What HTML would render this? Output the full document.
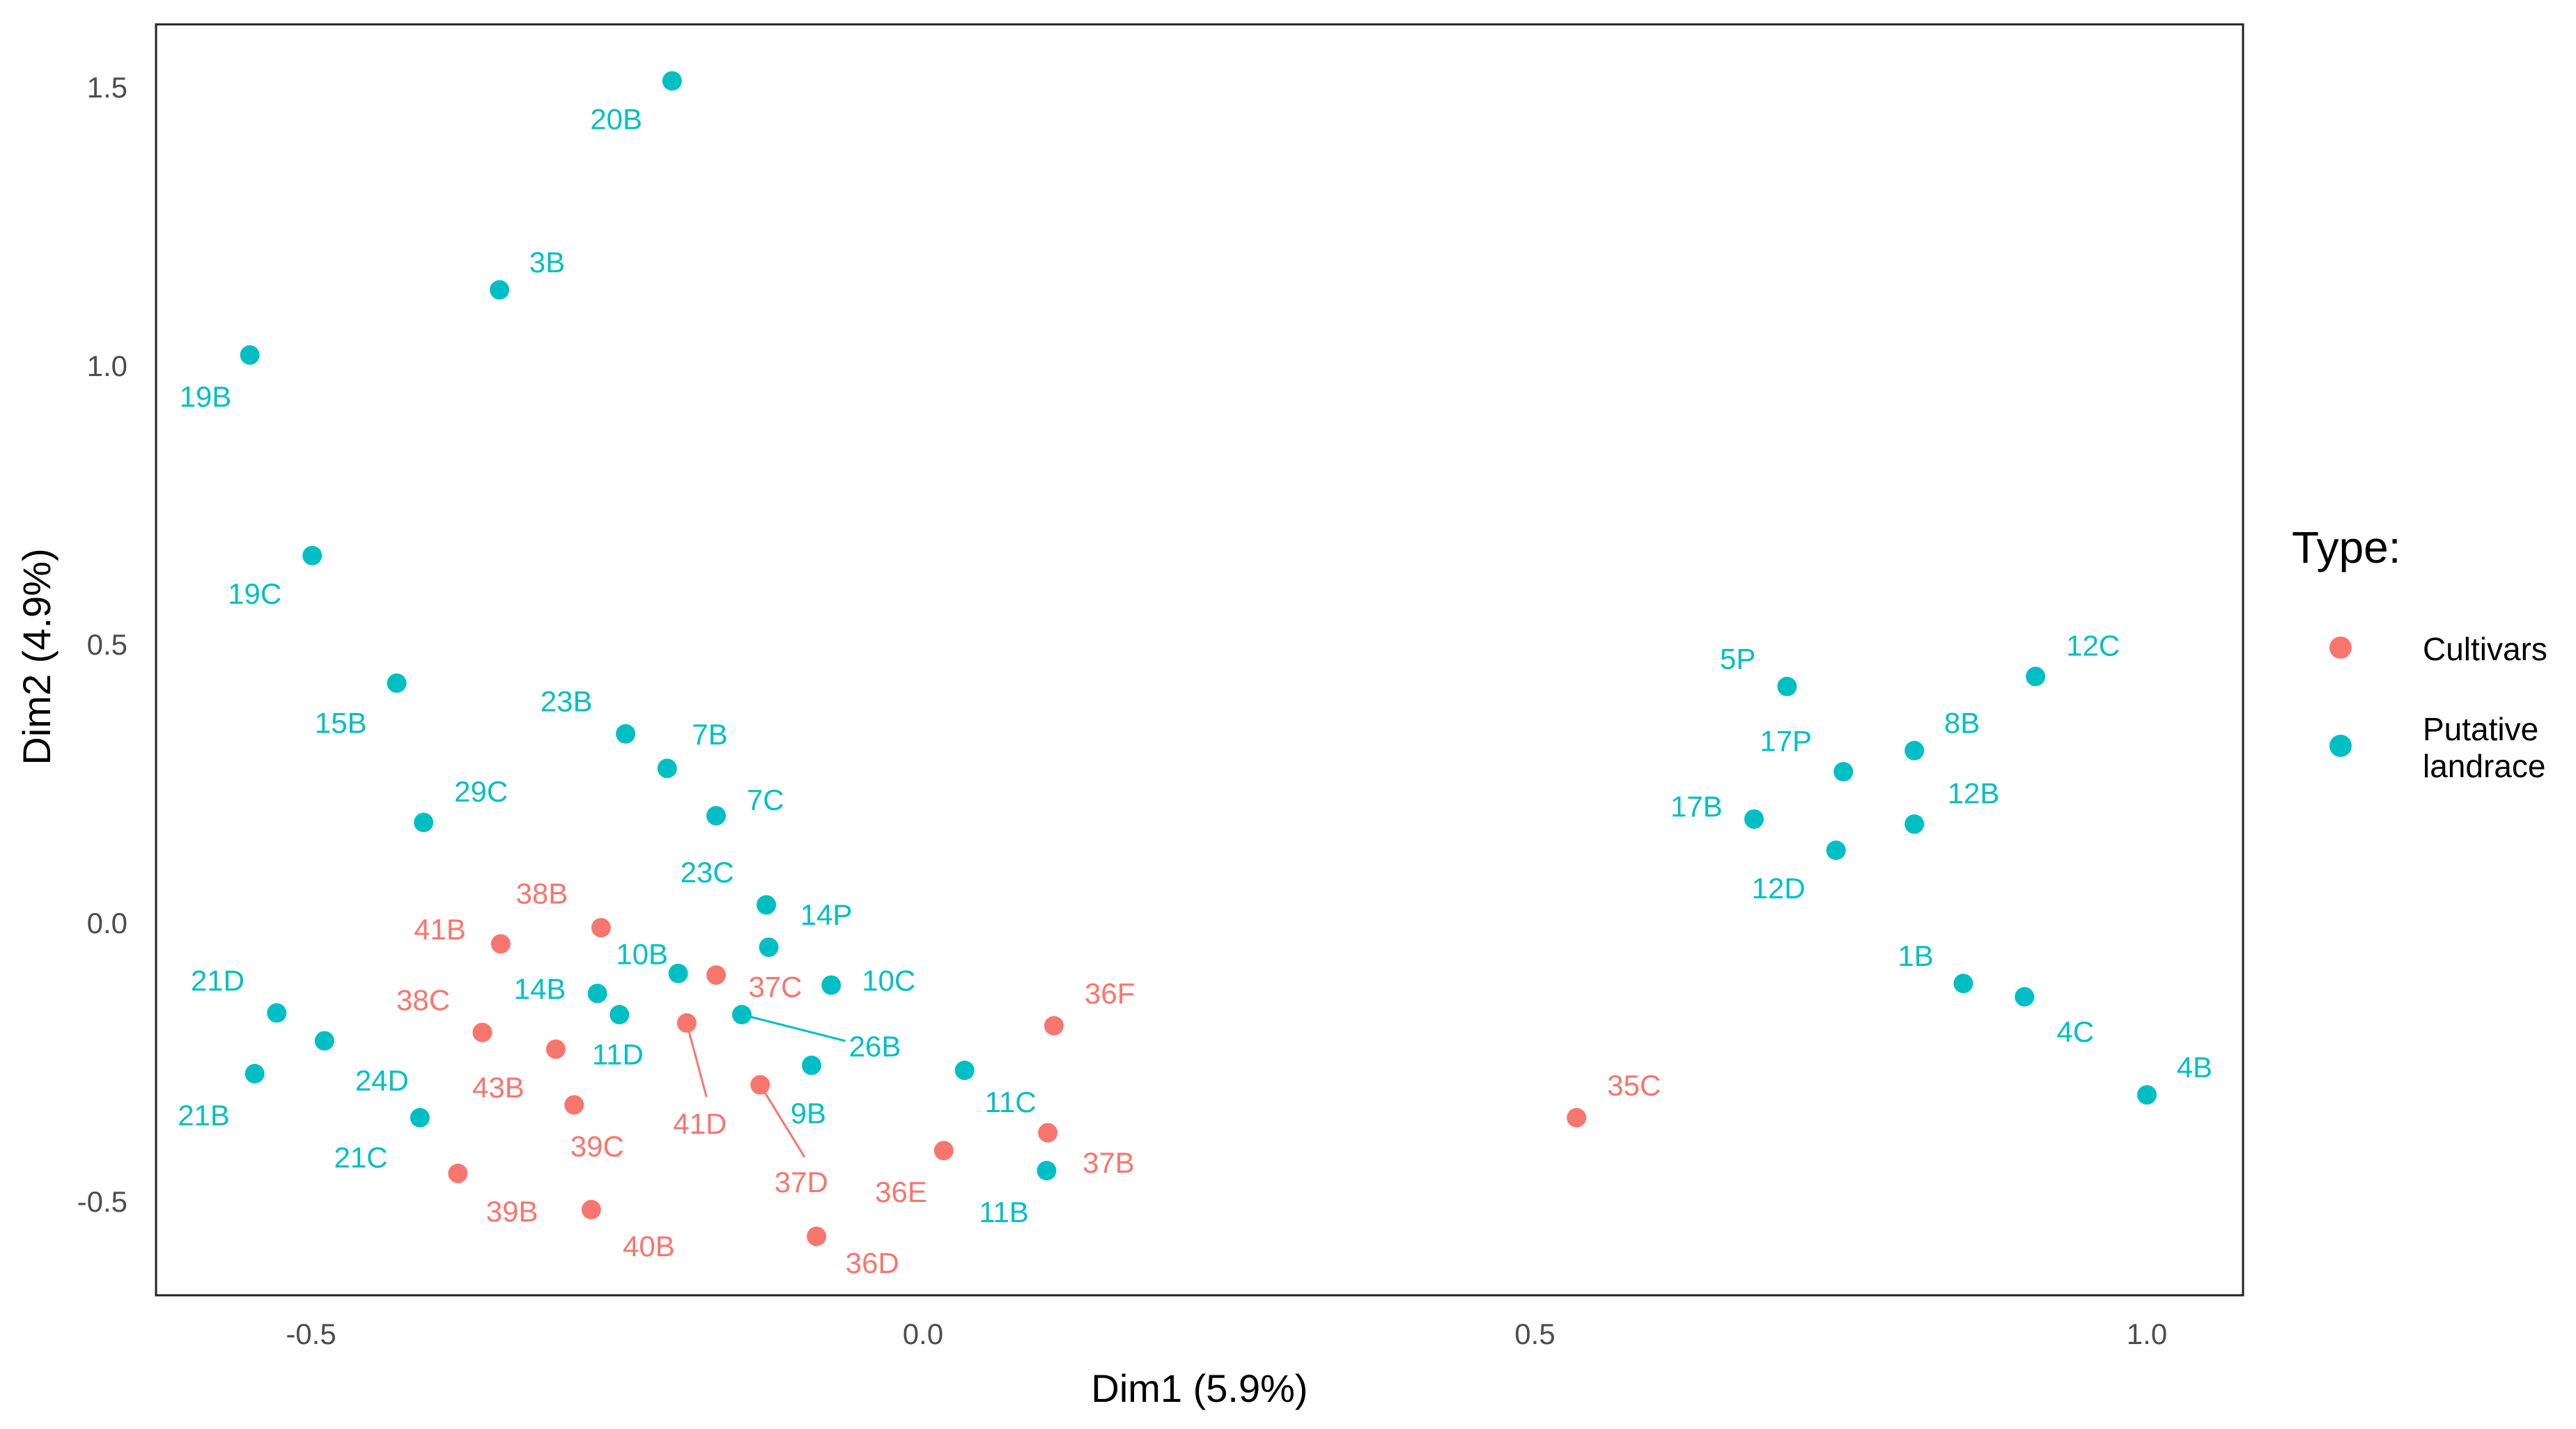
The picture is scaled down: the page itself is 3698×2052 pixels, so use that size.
<!DOCTYPE html>
<html><head><meta charset="utf-8"><style>
html,body{margin:0;padding:0;background:#fff;}
svg{display:block;font-family:"Liberation Sans",Arial,sans-serif;}
</style></head><body>
<svg id="chart" width="3698" height="2052" viewBox="0 0 3698 2052" xmlns="http://www.w3.org/2000/svg">
<rect x="0" y="0" width="3698" height="2052" fill="#fff"/>
<rect x="224" y="35" width="2996" height="1825" fill="none" stroke="#222" stroke-width="3"/>
<g id="xticks"></g>
<g id="yticks"></g>
<g id="segs"></g>
<g id="points"></g>
<g id="labels"></g>
<text x="1722" y="2013" font-size="56" text-anchor="middle" fill="#000">Dim1 (5.9%)</text>
<text x="72" y="943" font-size="56" text-anchor="middle" fill="#000" transform="rotate(-90 72 943)">Dim2 (4.9%)</text>
<g>
<text x="3290" y="808" font-size="64" fill="#000">Type:</text>
<circle cx="3360" cy="930" r="16" fill="#F8766D"/>
<text x="3478" y="948" font-size="46" fill="#000">Cultivars</text>
<circle cx="3360" cy="1071" r="16" fill="#00BFC4"/>
<text x="3478" y="1063" font-size="46" fill="#000">Putative</text>
<text x="3478" y="1116" font-size="46" fill="#000">landrace</text>
</g>
</svg>
<script>
const names=["20B","3B","19B","19C","15B","23B","7B","29C","7C","23C","14P","10B","10C","14B","11D","26B","21D","24D","21B","21C","9B","11C","11B","5P","12C","17P","8B","17B","12B","12D","1B","4C","4B","38B","41B","37C","38C","43B","41D","39C","37D","36F","37B","36E","39B","40B","36D","35C"];
const dim1=[-0.205,-0.346,-0.550,-0.499,-0.430,-0.243,-0.209,-0.408,-0.169,-0.128,-0.126,-0.200,-0.075,-0.266,-0.248,-0.148,-0.528,-0.489,-0.546,-0.411,-0.091,0.034,0.101,0.706,0.909,0.752,0.810,0.679,0.810,0.746,0.850,0.900,1.000,-0.263,-0.345,-0.169,-0.360,-0.300,-0.193,-0.285,-0.133,0.107,0.102,0.017,-0.380,-0.271,-0.087,0.534];
const dim2=[1.511,1.136,1.019,0.659,0.430,0.339,0.277,0.180,0.192,0.032,-0.044,-0.091,-0.112,-0.127,-0.165,-0.165,-0.162,-0.212,-0.271,-0.350,-0.256,-0.265,-0.445,0.424,0.442,0.271,0.309,0.186,0.177,0.130,-0.109,-0.133,-0.309,-0.009,-0.038,-0.094,-0.197,-0.227,-0.180,-0.327,-0.291,-0.185,-0.377,-0.409,-0.450,-0.515,-0.563,-0.350];
const types=["L","L","L","L","L","L","L","L","L","L","L","L","L","L","L","L","L","L","L","L","L","L","L","L","L","L","L","L","L","L","L","L","L","C","C","C","C","C","C","C","C","C","C","C","C","C","C","C"];
const xTicks=[-0.5,0.0,0.5,1.0];
const yTicks=[-0.5,0.0,0.5,1.0,1.5];
// label offsets (layout, display px relative to point)
const lab=[[-34,23],[29,-17],[-27,25],[-35,23],[-34,24],[-36,-20],[26,-21],[35,-19],[30,-10],[-36,-20],[35,-20],[-22,-12],[35,-3],[-35,-3],[-1,24],[81,19],[-36,-20],[35,24],[-31,25],[-36,24],[-2,29],[28,19],[-26,25],[-30,-17],[35,-19],[-35,-19],[29,-17],[-35,-8],[36,-19],[-35,23],[-29,-17],[31,21],[29,-17],[-36,-21],[-37,-9],[36,7],[-36,-20],[-35,23],[8,61],[14,25],[25,59],[34,-20],[37,18],[-26,25],[33,23],[35,22],[34,16],[35,-20]];
const conn={"26B":[63,16],"41D":[12,45],"37D":[27,44]};
const S=2.3584;
const X=v=>1325+v*1757, Y=v=>1325-v*800;
const NS="http://www.w3.org/2000/svg";
const col={C:"#F8766D",L:"#00BFC4"};
function mk(t,a,p){const e=document.createElementNS(NS,t);for(const k in a)e.setAttribute(k,a[k]);p.appendChild(e);return e;}
const gx=document.getElementById('xticks'),gy=document.getElementById('yticks');
xTicks.forEach(v=>{const t=mk('text',{x:X(v),y:1930,'font-size':42,'text-anchor':'middle',fill:'#4D4D4D'},gx);t.textContent=v.toFixed(1);

});
yTicks.forEach(v=>{const t=mk('text',{x:183,y:Y(v)+15,'font-size':42,'text-anchor':'end',fill:'#4D4D4D'},gy);t.textContent=v.toFixed(1);

});
const gp=document.getElementById('points'),gl=document.getElementById('labels'),gs=document.getElementById('segs');
names.forEach((n,i)=>{const cx=X(dim1[i]),cy=Y(dim2[i]),c=col[types[i]];
if(conn[n]){const l=mk('line',{x1:cx,y1:cy,x2:cx+conn[n][0]*S,y2:cy+conn[n][1]*S,stroke:c,'stroke-width':3},gs);

}
const p=mk('circle',{cx:cx,cy:cy,r:14,fill:c},gp);


const t=mk('text',{x:cx+lab[i][0]*S,y:cy+lab[i][1]*S+15,'font-size':42,'text-anchor':'middle',fill:c},gl);t.textContent=n;

});
</script>
</body></html>
